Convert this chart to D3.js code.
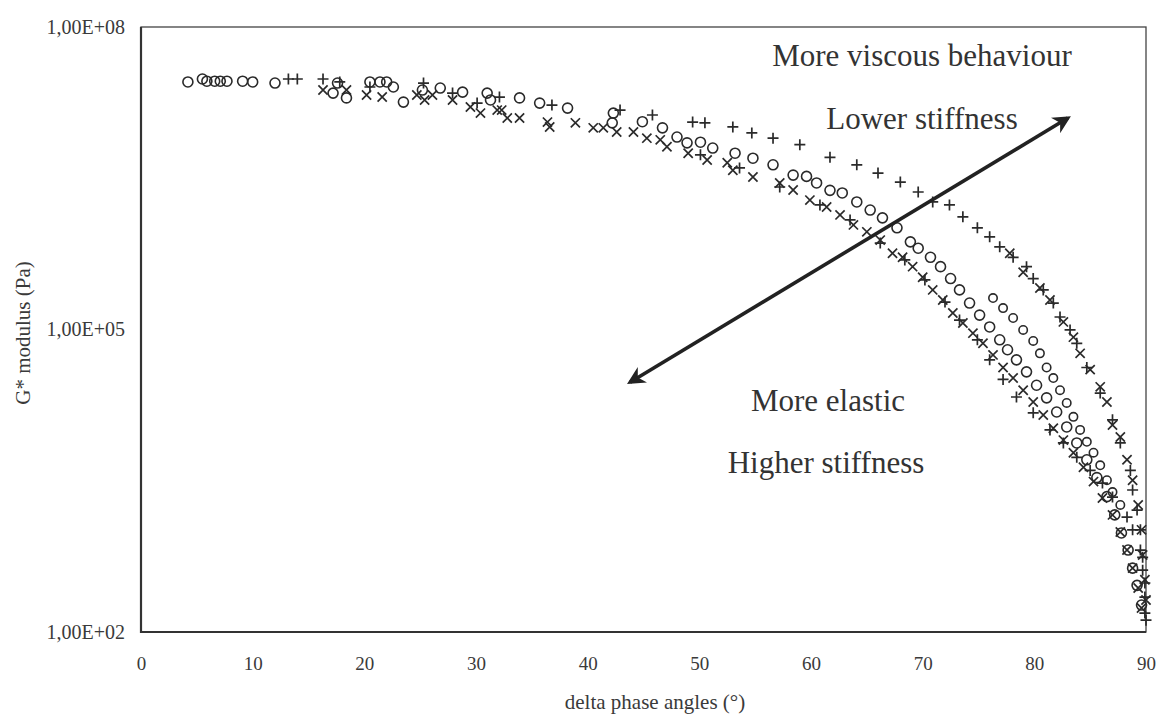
<!DOCTYPE html>
<html>
<head>
<meta charset="utf-8">
<script src="https://cdn.jsdelivr.net/npm/d3@7"></script>
<style>
  body { margin: 0; background: #fff; }
  text { font-family: "Liberation Serif", "DejaVu Serif", serif; fill: #3a3a3a; }
</style>
</head>
<body>
<div id="chart"></div>
<script>
// delta phase angle (deg), G* modulus (Pa)

// circles, main band
var circA = [
  [4.2,2.85e7],[5.5,3.05e7],[5.9,2.9e7],[6.6,2.9e7],[7.1,2.9e7],[7.7,2.9e7],[9.1,2.9e7],[10.0,2.85e7],
  [12.0,2.78e7],[17.2,2.21e7],[17.6,2.78e7],[18.4,1.98e7],[20.5,2.85e7],[21.4,2.85e7],[22.0,2.85e7],
  [22.6,2.54e7],[23.5,1.8e7],[25.2,2.37e7],[26.8,2.48e7],[28.8,2.26e7],[31.0,2.21e7],[31.3,1.89e7],
  [33.9,1.98e7],[35.7,1.76e7],[38.2,1.57e7],[42.2,1.12e7],[42.3,1.4e7],[44.9,1.15e7],[46.7,1.0e7],
  [48.0,8.1e6],[48.9,7.1e6],[50.1,7.2e6],[51.2,6.3e6],[53.2,5.6e6],[54.8,5.0e6],[56.6,4.3e6],
  [58.4,3.4e6],[59.6,3.3e6],[60.5,2.84e6],[61.7,2.4e6],[62.8,2.26e6],[64.1,1.84e6],[65.3,1.53e6],
  [66.4,1.28e6],[67.7,1.02e6],[68.9,7.4e5],[69.6,6.4e5],[70.7,5.2e5],[71.6,4.2e5],[72.5,3.2e5],
  [73.3,2.47e5],[74.2,1.83e5],[75.1,1.39e5],[76.0,1.06e5],[76.9,7.9e4],[77.6,6.3e4],[78.4,5.0e4],
  [79.3,3.8e4],[80.2,2.8e4],[81.1,2.1e4],[82.0,1.52e4],[82.9,1.08e4],[83.8,7.5e3],[84.7,5.1e3],
  [85.6,3.4e3],[86.5,2.2e3],[87.2,1.45e3],[87.8,9.6e2],[88.4,6.5e2],[88.8,4.3e2],[89.2,2.9e2],[89.6,1.85e2]
];

// circles, second curve on the right
var circB = [
  [76.3,2.05e5],[77.2,1.63e5],[78.1,1.3e5],[79.0,9.9e4],[79.9,7.7e4],[80.5,5.8e4],[81.1,4.2e4],
  [81.7,3.3e4],[82.3,2.5e4],[82.9,1.87e4],[83.5,1.36e4],[84.1,1.01e4],[84.7,7.7e3],[85.3,6.0e3],
  [85.9,4.5e3],[86.5,3.2e3],[87.0,2.44e3],[87.7,1.82e3]
];

// crosses, main band
var crossA = [
  [16.3,2.37e7],[18.4,2.37e7],[20.2,2.12e7],[21.6,2.02e7],[24.7,2.12e7],[25.4,1.89e7],[26.1,2.12e7],
  [27.9,1.89e7],[29.5,1.61e7],[30.4,1.4e7],[31.9,1.5e7],[32.3,1.5e7],[32.8,1.25e7],[33.9,1.25e7],
  [36.4,1.14e7],[36.6,1.02e7],[38.9,1.12e7],[40.5,1.0e7],[41.4,1.0e7],[42.6,9.1e6],[44.1,9.1e6],
  [45.3,7.9e6],[46.5,7.6e6],[47.1,6.5e6],[49.0,5.6e6],[50.7,4.8e6],[52.5,4.5e6],[53.0,3.8e6],
  [54.8,3.25e6],[57.2,2.84e6],[58.4,2.42e6],[59.9,1.92e6],[61.4,1.64e6],[62.6,1.37e6],[63.8,1.09e6],
  [65.0,9.3e5],[66.2,7.7e5],[67.3,5.7e5],[68.2,5.2e5],[69.1,4.2e5],[70.0,3.3e5],[70.9,2.47e5],
  [71.8,1.96e5],[72.7,1.46e5],[73.6,1.16e5],[74.5,9.2e4],[75.4,7.3e4],[76.3,5.6e4],[77.2,4.2e4],
  [78.1,3.3e4],[79.0,2.5e4],[79.9,1.91e4],[80.8,1.42e4],[81.7,1.05e4],[82.6,8.0e3],[83.5,6.0e3],
  [84.4,4.3e3],[85.3,3.1e3],[86.1,2.13e3],[87.0,1.45e3],[87.7,9.8e2],[88.3,6.5e2],[88.8,4.3e2],
  [89.3,2.73e2],[89.6,1.73e2]
];

// plus signs, main band
var plusA = [
  [13.2,3.05e7],[14.0,3.05e7],[16.3,3.05e7],[17.8,2.85e7],[20.5,2.54e7],[25.3,2.78e7],[27.9,2.21e7],
  [30.1,1.76e7],[32.1,2.02e7],[36.8,1.68e7],[42.9,1.5e7],[45.8,1.34e7],[50.1,5.4e6],[53.6,4.0e6],
  [57.2,2.59e6],[60.8,1.72e6],[63.5,1.22e6],[66.2,7.2e5],[68.4,4.9e5],[70.2,3.1e5],[72.0,1.87e5],
  [73.3,1.24e5],[74.9,7.9e4],[76.0,5.0e4],[77.2,3.2e4],[78.4,2.14e4],[79.9,1.49e4],[81.4,1.01e4],
  [82.6,7.5e3],[83.8,5.4e3],[85.0,4.0e3],[86.1,3.0e3],[87.0,2.18e3],[88.3,1.38e3],[88.8,1.03e3],
  [89.5,6.5e2],[89.7,4.1e2],[89.9,2.22e2],[90.0,1.31e2]
];

// plus signs, viscous curve
var plusB = [
  [49.4,1.14e7],[50.5,1.12e7],[53.0,1.02e7],[54.7,8.9e6],[56.6,7.9e6],[59.0,6.8e6],[61.7,5.1e6],
  [64.1,4.3e6],[66.0,3.56e6],[68.0,2.9e6],[69.6,2.31e6],[70.9,1.84e6],[72.4,1.72e6],[73.6,1.31e6],
  [74.9,1.02e6],[76.0,8.3e5],[76.9,6.6e5],[78.1,5.2e5],[79.3,4.2e5],[79.9,3.2e5],[80.8,2.47e5],
  [81.7,1.83e5],[82.3,1.33e5],[83.2,9.9e4],[83.8,7.3e4],[84.7,4.2e4],[85.9,2.34e4],[87.0,1.27e4],
  [87.7,7.5e3],[88.6,4.0e3],[88.8,2.56e3],[89.2,1.62e3],[89.5,1.03e3],[89.7,5.5e2],[89.9,3.06e2],[89.9,1.54e2]
];

// crosses, viscous curve
var crossB = [
  [77.8,5.7e5],[79.0,3.7e5],[80.5,2.58e5],[81.4,1.96e5],[82.6,1.19e5],[83.5,8.4e4],[84.1,5.8e4],
  [85.0,4.0e4],[85.9,2.7e4],[86.5,1.91e4],[87.0,1.13e4],[87.7,8.6e3],[88.3,5.1e3],[88.8,3.2e3],
  [89.3,1.82e3],[89.6,1.03e3],[89.7,5.8e2],[89.9,3.3e2],[90.0,2.08e2]
];

var xTicks = [0, 10, 20, 30, 40, 50, 60, 70, 80, 90];
var yTicks = [1e2, 1e5, 1e8];
var yTickLabels = ["1,00E+02", "1,00E+05", "1,00E+08"];

// double arrow, in data units
var arrowEnds = [[43.8, 3.0e4], [83.0, 1.25e7]];

var width = 1160, height = 715;
var margin = {left: 141, right: 14, top: 27, bottom: 83};

var svg = d3.select("#chart").append("svg")
    .attr("width", width)
    .attr("height", height);

var x = d3.scaleLinear().domain([0, 90]).range([margin.left, width - margin.right]);
var y = d3.scaleLog().domain([1e2, 1e8]).range([height - margin.bottom, margin.top]);

var ink = "#2a2a2a";

// plot frame
svg.append("rect")
    .attr("x", x(0)).attr("y", y(1e8))
    .attr("width", x(90) - x(0)).attr("height", y(1e2) - y(1e8))
    .attr("fill", "none").attr("stroke", "#444").attr("stroke-width", 1.3);
svg.append("path")
    .attr("d", "M" + x(0) + "," + y(1e8) + "V" + y(1e2) + "H" + x(90))
    .attr("fill", "none").attr("stroke", "#333").attr("stroke-width", 2.2);

// axes: labels only, no tick marks
var xAxis = svg.append("g")
    .attr("transform", "translate(0," + y(1e2) + ")")
    .call(d3.axisBottom(x).tickValues(xTicks).tickSize(0).tickPadding(25));
xAxis.select(".domain").remove();
xAxis.selectAll("text").style("font-size", "19px").attr("font-family", null);

var yAxis = svg.append("g")
    .attr("transform", "translate(" + x(0) + ",0)")
    .call(d3.axisLeft(y).tickValues(yTicks).tickSize(0).tickPadding(16)
      .tickFormat(function(d, i) { return yTickLabels[i]; }));
yAxis.select(".domain").remove();
yAxis.selectAll("text").style("font-size", "20px").attr("font-family", null);

svg.append("text")
    .attr("x", 655).attr("y", 709)
    .attr("text-anchor", "middle")
    .style("font-size", "21px")
    .text("delta phase angles (°)");

svg.append("text")
    .attr("transform", "translate(30," + 333 + ") rotate(-90)")
    .attr("text-anchor", "middle")
    .style("font-size", "21px")
    .text("G* modulus (Pa)");

// markers
var plusPath = "M-5.5,0H5.5M0,-5.5V5.5";
var crossPath = "M-4.6,-4.6L4.6,4.6M-4.6,4.6L4.6,-4.6";

function drawPaths(data, d) {
    svg.append("g").selectAll("path")
        .data(data)
      .enter().append("path")
        .attr("transform", function(p) { return "translate(" + x(p[0]) + "," + y(p[1]) + ")"; })
        .attr("d", d)
        .attr("fill", "none")
        .attr("stroke", ink)
        .attr("stroke-width", 1.7);
}

function drawCircles(data, r) {
    svg.append("g").selectAll("circle")
        .data(data)
      .enter().append("circle")
        .attr("cx", function(p) { return x(p[0]); })
        .attr("cy", function(p) { return y(p[1]); })
        .attr("r", r)
        .attr("fill", "none")
        .attr("stroke", ink)
        .attr("stroke-width", 1.6);
}

drawPaths(crossA, crossPath);
drawPaths(plusA, plusPath);
drawCircles(circA, 5);
drawCircles(circB, 4.2);
drawPaths(plusB, plusPath);
drawPaths(crossB, crossPath);

// arrow
var defs = svg.append("defs");
defs.append("marker")
    .attr("id", "head")
    .attr("viewBox", "0 0 10 10")
    .attr("refX", 8).attr("refY", 5)
    .attr("markerWidth", 5).attr("markerHeight", 5)
    .attr("orient", "auto-start-reverse")
  .append("path")
    .attr("d", "M0,0L10,5L0,10L3,5Z")
    .attr("fill", "#222");

svg.append("line")
    .attr("x1", x(arrowEnds[0][0])).attr("y1", y(arrowEnds[0][1]))
    .attr("x2", x(arrowEnds[1][0])).attr("y2", y(arrowEnds[1][1]))
    .attr("stroke", "#222").attr("stroke-width", 3.6)
    .attr("marker-start", "url(#head)")
    .attr("marker-end", "url(#head)");

// annotations
var notes = [
    {t: "More viscous behaviour", x: 922, y: 66},
    {t: "Lower stiffness", x: 922, y: 129},
    {t: "More elastic", x: 828, y: 411},
    {t: "Higher stiffness", x: 826, y: 473}
];
svg.append("g").selectAll("text")
    .data(notes)
  .enter().append("text")
    .attr("x", function(d) { return d.x; })
    .attr("y", function(d) { return d.y; })
    .attr("text-anchor", "middle")
    .style("font-size", "31px")
    .style("fill", "#333")
    .text(function(d) { return d.t; });
</script>
</body>
</html>
